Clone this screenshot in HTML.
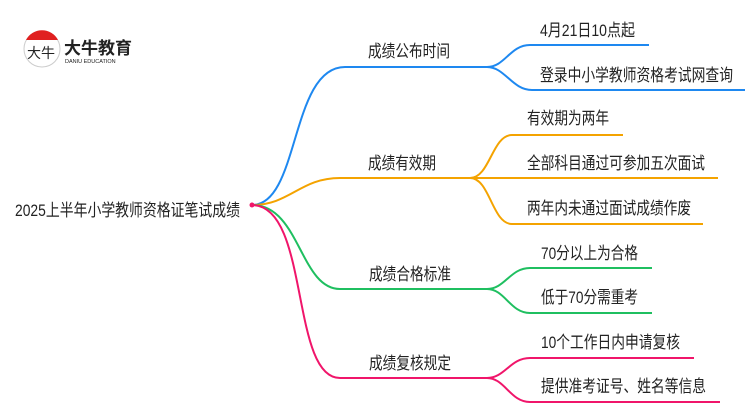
<!DOCTYPE html>
<html><head><meta charset="utf-8"><style>
body{margin:0;background:#fff;width:750px;height:410px;overflow:hidden}
text{font-family:"Liberation Sans","Noto Sans CJK SC",sans-serif;fill:#222}
</style></head><body>
<svg width="750" height="410" viewBox="0 0 750 410" xmlns="http://www.w3.org/2000/svg">
<circle cx="42" cy="49" r="18" fill="#fff" stroke="#ccc" stroke-width="1"/>
<path d="M26 40 A18 18 0 0 1 58 40 Z" fill="#e02020"/>
<text x="27" y="58" font-size="14" fill="#222">大牛</text>
<text x="64" y="54" font-size="17" font-weight="bold" fill="#333">大牛教育</text>
<text x="65" y="63" font-size="5.5" fill="#333">DANIU EDUCATION</text>

<g fill="none" stroke-width="2">
<path d="M252 205 C 300 205, 290 67, 345 67 L 487 67" stroke="#1e88f0"/>
<path d="M487 67 C 505 67, 510 45, 530 45 L 649 45" stroke="#1e88f0"/>
<path d="M487 67 C 505 67, 512 90, 532 90 L 745 90" stroke="#1e88f0"/>
<path d="M252 205 C 290 205, 300 178, 340 178 L 470 178" stroke="#f4a300"/>
<path d="M470 178 C 490 178, 492 135, 512 135 L 623 135" stroke="#f4a300"/>
<path d="M470 178 L 718 178" stroke="#f4a300"/>
<path d="M470 178 C 490 178, 492 224, 512 224 L 703 224" stroke="#f4a300"/>
<path d="M252 205 C 300 205, 300 289, 340 289 L 487 289" stroke="#1fbf60"/>
<path d="M487 289 C 505 289, 510 268, 530 268 L 652 268" stroke="#1fbf60"/>
<path d="M487 289 C 505 289, 510 313, 530 313 L 652 313" stroke="#1fbf60"/>
<path d="M252 205 C 310 205, 290 378, 340 378 L 487 378" stroke="#f0156a"/>
<path d="M487 378 C 505 378, 510 358, 530 358 L 694 358" stroke="#f0156a"/>
<path d="M487 378 C 505 378, 510 402, 530 402 L 720 402" stroke="#f0156a"/>
</g>
<circle cx="252" cy="205" r="2.5" fill="#f0156a"/>

<g font-size="17">
<text x="15" y="216" textLength="225" lengthAdjust="spacingAndGlyphs">2025上半年小学教师资格证笔试成绩</text>
<text x="368" y="57" textLength="82" lengthAdjust="spacingAndGlyphs">成绩公布时间</text>
<text x="540" y="36" textLength="95" lengthAdjust="spacingAndGlyphs">4月21日10点起</text>
<text x="540" y="81" textLength="193" lengthAdjust="spacingAndGlyphs">登录中小学教师资格考试网查询</text>

<text x="368" y="169" textLength="68" lengthAdjust="spacingAndGlyphs">成绩有效期</text>
<text x="527" y="124" textLength="82" lengthAdjust="spacingAndGlyphs">有效期为两年</text>
<text x="527" y="169" textLength="178" lengthAdjust="spacingAndGlyphs">全部科目通过可参加五次面试</text>
<text x="527" y="214" textLength="164" lengthAdjust="spacingAndGlyphs">两年内未通过面试成绩作废</text>

<text x="369" y="280" textLength="82" lengthAdjust="spacingAndGlyphs">成绩合格标准</text>
<text x="541" y="259" textLength="97" lengthAdjust="spacingAndGlyphs">70分以上为合格</text>
<text x="541" y="303" textLength="97" lengthAdjust="spacingAndGlyphs">低于70分需重考</text>

<text x="369" y="369" textLength="82" lengthAdjust="spacingAndGlyphs">成绩复核规定</text>
<text x="541" y="348" textLength="139" lengthAdjust="spacingAndGlyphs">10个工作日内申请复核</text>
<text x="541" y="392" textLength="165" lengthAdjust="spacingAndGlyphs">提供准考证号、姓名等信息</text>
</g>
</svg>
</body></html>
